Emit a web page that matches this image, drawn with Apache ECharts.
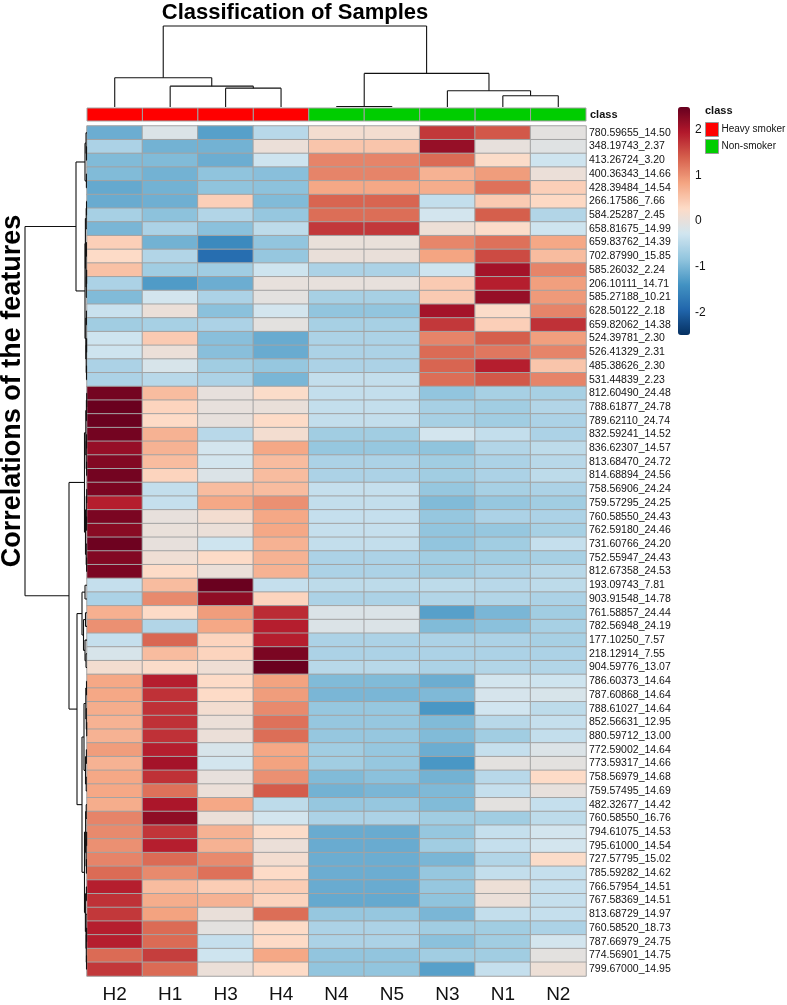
<!DOCTYPE html>
<html><head><meta charset="utf-8">
<script src="https://cdn.jsdelivr.net/npm/echarts@6/dist/echarts.min.js"></script>
<style>html,body{margin:0;padding:0;background:#fff}#c{width:787px;height:1005px}</style>
</head><body><div id="c"></div><script>
// ---------------- data ----------------
const samples = ['H2','H1','H3','H4','N4','N5','N3','N1','N2'];
const sampleGroup = ['Heavy smoker','Heavy smoker','Heavy smoker','Heavy smoker','Non-smoker','Non-smoker','Non-smoker','Non-smoker','Non-smoker'];
const groupNames = ['Heavy smoker','Non-smoker'];
const groupColors = ['#FF0000','#00CD00'];
const features = ['780.59655_14.50','348.19743_2.37','413.26724_3.20','400.36343_14.66','428.39484_14.54','266.17586_7.66','584.25287_2.45','658.81675_14.99','659.83762_14.39','702.87990_15.85',
'585.26032_2.24','206.10111_14.71','585.27188_10.21','628.50122_2.18','659.82062_14.38','524.39781_2.30','526.41329_2.31','485.38626_2.30','531.44839_2.23','812.60490_24.48',
'788.61877_24.78','789.62110_24.74','832.59241_14.52','836.62307_14.57','813.68470_24.72','814.68894_24.56','758.56906_24.24','759.57295_24.25','760.58550_24.43','762.59180_24.46',
'731.60766_24.20','752.55947_24.43','812.67358_24.53','193.09743_7.81','903.91548_14.78','761.58857_24.44','782.56948_24.19','177.10250_7.57','218.12914_7.55','904.59776_13.07',
'786.60373_14.64','787.60868_14.64','788.61027_14.64','852.56631_12.95','880.59712_13.00','772.59002_14.64','773.59317_14.66','758.56979_14.68','759.57495_14.69','482.32677_14.42',
'760.58550_16.76','794.61075_14.53','795.61000_14.54','727.57795_15.02','785.59282_14.62','766.57954_14.51','767.58369_14.51','813.68729_14.97','760.58520_18.73','787.66979_24.75',
'774.56901_14.75','799.67000_14.95'];
const H2 = [-1.1,-0.6,-0.95,-0.95,-1.15,-1.12,-0.65,-1.0,0.4,0.28, 0.55,-0.6,-0.95,-0.35,-0.7,-0.3,-0.3,-0.6,-0.6,2.4, 2.48,2.48,2.4,2.15,2.3,2.4,2.35,1.9,2.35,2.25, 2.45,2.3,2.35,-0.38,-0.6,0.72,1.0,-0.38,-0.2,0.15, 0.8,0.8,0.75,0.7,0.7,0.9,0.7,0.8,0.8,0.75, 1.1,1.05,1.0,1.1,1.3,1.9,1.75,1.7,1.9,1.9, 1.3,1.7];
const H1 = [-0.15,-1.05,-0.95,-1.05,-1.05,-1.08,-0.87,-0.6,-1.05,-0.55, -0.7,-1.3,-0.25,0.05,-0.65,0.45,0.05,-0.2,-0.5,0.6, 0.35,0.28,0.7,0.7,0.6,0.35,-0.4,-0.38,0,0.02, 0,0.1,0.28,0.6,1.05,0.28,-0.55,1.33,0.6,0.25, 1.9,1.75,1.75,1.75,1.75,1.9,2.05,1.75,1.25,2.0, 2.2,1.72,1.9,1.3,1.05,0.6,0.75,0.85,1.3,1.3, 1.65,1.3];
const H3 = [-1.25,-1.05,-1.1,-0.85,-0.85,0.4,-0.55,-0.88,-1.5,-1.85, -0.7,-1.1,-0.6,-0.88,-0.6,-0.9,-0.9,-0.7,-0.6,0, 0,0,-0.5,-0.25,-0.25,-0.15,0.6,0.8,0.15,0.05, -0.3,0.28,0.05,2.48,2.2,0.9,0.8,0.35,0.35,0.1, 0.28,0.28,0.15,0.05,0.05,-0.2,-0.25,0,0.05,0.8, 0.05,0.7,0.7,1.05,1.25,0.42,0.7,0.03,-0.05,-0.38, -0.3,0.05];
const H4 = [-0.5,0.05,-0.3,-0.9,-0.87,-0.95,-0.8,-0.45,-0.83,-0.8, -0.3,0,-0.05,-0.25,-0.05,-1.12,-1.12,-0.8,-1.0,0.25, 0.03,0.28,0.15,0.8,0.6,0.6,0.6,1.0,0.8,0.8, 0.7,0.7,0.7,-0.38,0.35,1.8,1.9,1.9,2.35,2.48, 0.85,0.9,1.05,1.25,1.28,0.8,0.85,1.0,1.42,-0.45, -0.25,0.25,0.05,0.15,0.28,0.42,0.35,1.28,0.28,0.28, 0.8,0.28];
const N4 = [0.15,0.5,1.1,1.1,0.8,1.35,1.28,1.7,0.02,0.03, -0.6,0,-0.65,-0.83,-0.65,-0.6,-0.6,-0.6,-0.4,-0.4, -0.4,-0.4,-0.7,-0.8,-0.6,-0.6,-0.38,-0.4,-0.38,-0.38, -0.4,-0.6,-0.6,-0.45,-0.6,-0.15,-0.15,-0.6,-0.6,-0.5, -0.95,-1.0,-0.8,-0.8,-0.8,-0.7,-0.7,-0.95,-1.05,-0.8, -0.6,-1.12,-1.12,-1.1,-1.1,-1.12,-1.15,-0.8,-0.6,-0.6, -0.83,-0.83];
const N5 = [0.15,0.5,1.1,1.1,0.8,1.35,1.28,1.7,0.02,0.03, -0.6,0,-0.65,-0.83,-0.65,-0.6,-0.6,-0.6,-0.4,-0.4, -0.4,-0.4,-0.7,-0.8,-0.6,-0.6,-0.38,-0.4,-0.38,-0.38, -0.4,-0.6,-0.6,-0.45,-0.6,-0.15,-0.15,-0.6,-0.6,-0.5, -0.95,-1.0,-0.8,-0.8,-0.8,-0.8,-0.8,-0.88,-1.0,-0.8, -0.6,-1.12,-1.12,-1.1,-1.1,-1.12,-1.15,-0.8,-0.6,-0.6, -0.83,-0.83];
const N3 = [1.7,2.15,1.3,0.7,0.75,-0.4,-0.25,0.08,1.08,0.83, -0.3,0.45,0.45,2.05,1.7,1.1,1.3,1.35,1.28,-0.83, -0.65,-0.65,-0.25,-0.85,-0.7,-0.7,-0.8,-0.95,-0.8,-0.83, -0.83,-0.7,-0.7,-0.45,-0.55,-1.25,-0.95,-0.6,-0.6,-0.6, -1.1,-0.97,-1.35,-0.95,-0.95,-1.1,-1.35,-1.05,-0.97,-0.95, -0.7,-0.8,-0.7,-1.0,-0.8,-0.8,-0.85,-1.0,-0.7,-0.88, -0.7,-1.25];
const N1 = [1.45,0,0.25,0.9,1.25,0.45,1.4,0.25,1.25,1.55, 2.05,1.9,2.15,0.25,0.4,1.4,1.2,1.9,1.45,-0.65, -0.7,-0.7,-0.4,-0.55,-0.6,-0.6,-0.65,-0.8,-0.6,-0.8, -0.7,-0.7,-0.6,-0.5,-0.55,-1.0,-0.88,-0.6,-0.6,-0.55, -0.25,-0.22,-0.28,-0.5,-0.7,-0.38,-0.05,-0.5,-0.38,-0.05, -0.7,-0.38,-0.38,-0.55,-0.4,0.07,0.05,-0.4,-0.7,-0.7, -0.7,-0.38];
const N2 = [-0.05,-0.1,-0.3,0.05,0.4,0.3,-0.55,-0.3,0.8,0.6, 1.1,0.88,0.92,1.1,1.75,0.88,1.1,0.5,1.1,-0.65, -0.55,-0.6,-0.6,-0.45,-0.5,-0.45,-0.6,-0.7,-0.6,-0.65, -0.38,-0.65,-0.5,-0.45,-0.6,-0.7,-0.65,-0.65,-0.6,-0.55, -0.3,-0.2,-0.45,-0.38,-0.4,-0.15,-0.05,0.28,0,-0.38, -0.45,-0.25,-0.25,0.25,-0.38,-0.38,-0.38,-0.38,-0.6,-0.25, -0.05,0.07];
// dendrograms: [height, left, right]; leaves are indices
const colTree = [80.8, [29.2, 0, [20.8, 1, [18.8, 2, 3]]], [33.5, [0.5, 4, 5], [16.2, 6, [11.2, 7, 8]]]];
const rowTree = [62,
 [11,
   [2, [1, 0, [0.5, 1, 2]], [0.6, 3, 4]],
   [2, [1.6, [0.8, [0.5, 5, 6], 7], [1.0, [0.6, 8, 9], [0.7, [0.4, 10, 11], 12]]],
       [1.2, [0.6, 13, 14], [0.8, [0.4, 15, 16], [0.5, 17, 18]]]]],
 [18,
   [2.5, [1.2, [0.6, [0.3, 19, 20], 21], [0.8, [0.4, 22, 23], [0.4, 24, 25]]], [1.5, [0.7, [0.3, 26, 27], [0.4, 28, 29]], [0.8, 30, [0.4, 31, 32]]]],
   [10,
     [5, [2, 33, 34], [3.5, [1.5, 35, 36], [2, 37, [1, 38, 39]]]],
     [5, [3, [1.2, [0.5, 40, 41], [0.7, 42, [0.3, 43, 44]]], [1.5, [0.6, 45, 46], [0.8, 47, 48]]],
         [2.5, [1.4, [0.8, 49, 50], [0.9, [0.4, 51, 52], [0.6, 53, 54]]], [1.6, [0.6, 55, 56], [1.0, 57, [0.7, [0.4, 58, 59], [0.5, 60, 61]]]]]]]]];
const colorTicks = [-2, -1, 0, 1, 2];
const palette = ['#053061','#2166AC','#4393C3','#92C5DE','#D1E5F0','#FDDBC7','#F4A582','#D6604D','#B2182B','#67001F'];

// ---------------- build ----------------
const columns = [H2, H1, H3, H4, N4, N5, N3, N1, N2];
const heatData = [];
columns.forEach((col, ci) => col.forEach((v, ri) => heatData.push([ci, ri, v])));

function layoutTree(node, segs) {
  if (typeof node === 'number') return [node, 0];
  const a = layoutTree(node[1], segs), b = layoutTree(node[2], segs), h = node[0];
  segs.push([a[0], a[1], a[0], h], [b[0], b[1], b[0], h], [a[0], h, b[0], h]);
  return [(a[0] + b[0]) / 2, h];
}
const colSegs = []; layoutTree(colTree, colSegs);
const rowSegsRaw = []; layoutTree(rowTree, rowSegsRaw);
const rowSegs = rowSegsRaw.map(s => [s[1], s[0], s[3], s[2]]);

const FF = "'Liberation Sans', Arial, sans-serif";

function segRender(params, api) {
  const p1 = api.coord([api.value(0), api.value(1)]);
  const p2 = api.coord([api.value(2), api.value(3)]);
  return { type: 'line', shape: { x1: p1[0], y1: p1[1], x2: p2[0], y2: p2[1] },
    style: { stroke: '#111', lineWidth: 1.1 } };
}
function classRender(params, api) {
  const c = api.coord([api.value(0), 0]);
  const s = api.size([1, 1]);
  return { type: 'rect', shape: { x: c[0] - s[0] / 2, y: c[1] - s[1] / 2, width: s[0], height: s[1] },
    style: { fill: api.visual('color'), stroke: '#a0a0a0', lineWidth: 1 } };
}
const hidden = { show: false };

const chart = echarts.init(document.getElementById('c'), null, { renderer: 'canvas' });
chart.setOption({
  animation: false,
  backgroundColor: '#fff',
  textStyle: { fontFamily: FF },
  title: [
    { text: 'Classification of Samples', left: 295, top: 2, textAlign: 'center', padding: 0,
      textStyle: { fontFamily: FF, fontSize: 22, fontWeight: 'bold', color: '#000' } },
    { text: 'class', left: 705, top: 105, padding: 0,
      textStyle: { fontFamily: FF, fontSize: 11, fontWeight: 'bold', color: '#111' } }
  ],
  graphic: [
    { type: 'text', x: 13, y: 391, rotation: Math.PI / 2, silent: true,
      style: { text: 'Correlations of the features', fill: '#000', font: "bold 27px 'Liberation Sans', Arial, sans-serif",
        textAlign: 'center', textVerticalAlign: 'middle' } }
  ],
  grid: [
    { left: 87, top: 126, width: 499, height: 850 },
    { left: 87, top: 26, width: 499, height: 81 },
    { left: 25, top: 126, width: 62, height: 850 },
    { left: 87, top: 108, width: 499, height: 13 },
    { left: 678, top: 107, width: 12, height: 228 }
  ],
  xAxis: [
    { type: 'category', gridIndex: 0, data: samples, position: 'bottom',
      axisLine: hidden, axisTick: hidden, splitLine: hidden,
      axisLabel: { fontSize: 19, margin: 9, color: '#111', fontFamily: FF } },
    { type: 'value', gridIndex: 1, min: -0.5, max: 8.5, show: false },
    { type: 'value', gridIndex: 2, min: 0, max: 62, inverse: true, show: false },
    { type: 'category', gridIndex: 3, data: samples, show: false },
    { type: 'value', gridIndex: 4, min: 0, max: 1, show: false }
  ],
  yAxis: [
    { type: 'category', gridIndex: 0, data: features, inverse: true, position: 'right',
      axisLine: hidden, axisTick: hidden, splitLine: hidden,
      axisLabel: { fontSize: 10.5, margin: 3, color: '#111', fontFamily: FF, interval: 0 } },
    { type: 'value', gridIndex: 1, min: 0, max: 80.8, show: false },
    { type: 'value', gridIndex: 2, min: -0.5, max: 61.5, inverse: true, show: false },
    { type: 'category', gridIndex: 3, data: ['class'], position: 'right',
      axisLine: hidden, axisTick: hidden, splitLine: hidden,
      axisLabel: { fontSize: 11, margin: 4, fontWeight: 'bold', color: '#111', fontFamily: FF } },
    { type: 'value', gridIndex: 4, min: -2.5, max: 2.5, position: 'right',
      axisLine: hidden, axisTick: hidden, splitLine: hidden,
      axisLabel: { customValues: colorTicks, fontSize: 12, margin: 5, color: '#111', fontFamily: FF } }
  ],
  visualMap: {
    type: 'continuous', seriesIndex: 0, min: -2.5, max: 2.5, calculable: false,
    left: 678, top: 107, padding: 0, itemWidth: 12, itemHeight: 228,
    inRange: { color: palette }, text: null, hoverLink: false
  },
  legend: {
    data: groupNames, orient: 'vertical', left: 705, top: 122, padding: 0,
    itemWidth: 13, itemHeight: 14, itemGap: 2, icon: 'rect', selectedMode: false,
    itemStyle: { borderColor: '#999', borderWidth: 1 },
    textStyle: { fontSize: 10, color: '#111', fontFamily: FF, padding: [0, 0, 0, -2] }
  },
  series: [
    { type: 'heatmap', xAxisIndex: 0, yAxisIndex: 0, data: heatData,
      itemStyle: { borderColor: '#a3a3a3', borderWidth: 1 }, emphasis: { disabled: true } },
    { type: 'custom', xAxisIndex: 1, yAxisIndex: 1, data: colSegs, renderItem: segRender, silent: true },
    { type: 'custom', xAxisIndex: 2, yAxisIndex: 2, data: rowSegs, renderItem: segRender, silent: true },
    ...groupNames.map((g, gi) => ({
      type: 'custom', name: g, xAxisIndex: 3, yAxisIndex: 3, silent: true,
      itemStyle: { color: groupColors[gi] },
      data: samples.map((s, i) => [i, 0, sampleGroup[i]]).filter(d => d[2] === g).map(d => [d[0], d[1]]),
      renderItem: classRender
    }))
  ]
});
</script></body></html>
